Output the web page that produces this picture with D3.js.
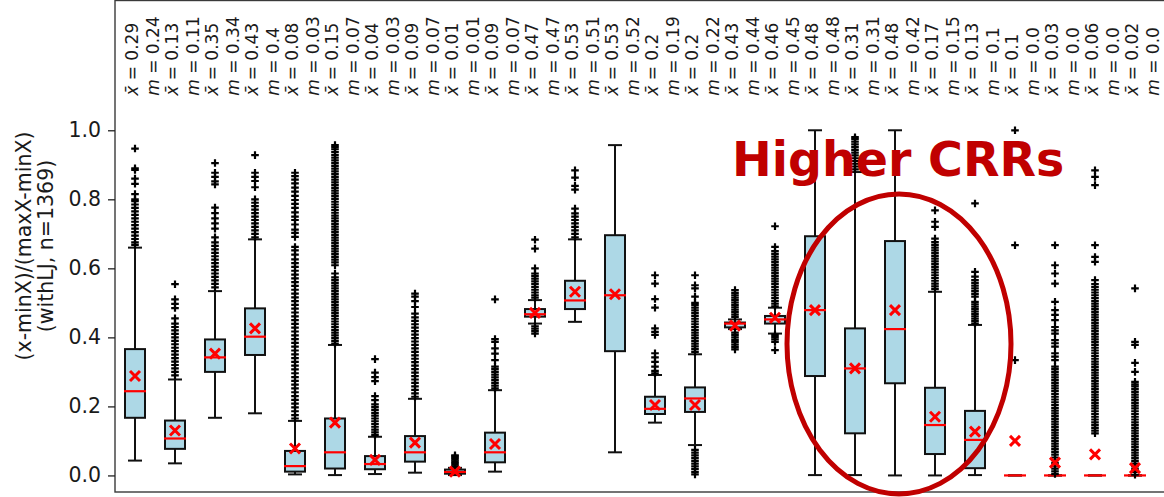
<!DOCTYPE html>
<html lang="en">
<head>
    <meta charset="UTF-8">
    <title>Box plots of normalised values</title>
    <script src="https://cdn.jsdelivr.net/npm/d3@7"></script>
    <style>
        body {
            margin: 0;
            padding: 0;
            background: #ffffff;
        }
        svg text {
            font-family: "DejaVu Sans", sans-serif;
            fill: #1a1a1a;
        }
        .tick text {
            font-size: 20.5px;
        }
    </style>
</head>
<body>
    <div id="chart"></div>

    <script>
        // --- data ---
        var meanText = ["0.29","0.13","0.35","0.43","0.08","0.15","0.04","0.09","0.01","0.09","0.47","0.53","0.53",
                        "0.2","0.2","0.43","0.46","0.48","0.31","0.48","0.17","0.13","0.1","0.03","0.06","0.02"];
        var medianText = ["0.24","0.11","0.34","0.4","0.03","0.07","0.03","0.07","0.01","0.07","0.47","0.51","0.52",
                          "0.19","0.22","0.44","0.45","0.48","0.31","0.42","0.15","0.1","0.0","0.0","0.0","0.0"];

        var whiskerLow  = [0.043,0.035,0.167,0.180,0.003,0.001,0.004,0.008,0.001,0.011,0.440,0.445,0.067,
                           0.153,0.088,0.424,0.411,0.001,0.001,0.000,0.000,0.001,0,0,0,0];
        var q1          = [0.167,0.077,0.300,0.349,0.011,0.020,0.018,0.040,0.005,0.038,0.460,0.482,0.360,
                           0.178,0.184,0.429,0.440,0.288,0.122,0.267,0.062,0.021,0,0,0,0];
        var median      = [0.244,0.107,0.342,0.402,0.027,0.067,0.033,0.067,0.010,0.067,0.467,0.507,0.522,
                           0.193,0.223,0.440,0.452,0.479,0.310,0.424,0.146,0.103,0,0,0,0];
        var q3          = [0.366,0.159,0.394,0.484,0.071,0.165,0.056,0.114,0.017,0.124,0.482,0.564,0.696,
                           0.228,0.255,0.443,0.462,0.693,0.426,0.679,0.254,0.187,0,0,0,0];
        var whiskerHigh = [0.660,0.278,0.534,0.684,0.158,0.378,0.112,0.222,0.022,0.247,0.508,0.684,0.957,
                           0.291,0.351,0.452,0.486,1.000,0.879,1.000,0.532,0.436,0,0,0,0];
        var means       = [0.288,0.130,0.353,0.426,0.078,0.153,0.045,0.095,0.011,0.091,0.471,0.532,0.525,
                           0.204,0.204,0.434,0.457,0.479,0.310,0.479,0.170,0.127,0.100,0.037,0.061,0.021];

        var outliers = [
            [0.668,0.675,0.685,0.695,0.705,0.715,0.725,0.735,0.745,0.755,0.765,0.775,0.785,0.795,0.80,0.815,0.845,0.86,0.885,0.89,0.947],
            [0.29,0.30,0.31,0.32,0.33,0.34,0.35,0.36,0.37,0.38,0.39,0.40,0.41,0.42,0.43,0.44,0.455,0.485,0.497,0.51,0.554],
            [0.545,0.555,0.565,0.575,0.585,0.595,0.605,0.615,0.625,0.635,0.645,0.655,0.665,0.675,0.69,0.715,0.73,0.745,0.76,0.776,0.843,0.852,0.865,0.877,0.905],
            [0.69,0.70,0.71,0.72,0.73,0.74,0.75,0.76,0.77,0.78,0.79,0.80,0.835,0.853,0.865,0.877,0.928],
            [0.165,0.175,0.186,0.197,0.208,0.219,0.23,0.241,0.252,0.263,0.274,0.285,0.296,0.307,0.318,0.329,0.34,0.351,0.362,0.373,
             0.384,0.395,0.406,0.417,0.428,0.439,0.45,0.461,0.472,0.483,0.494,0.505,0.516,0.527,0.538,0.549,0.56,0.571,0.582,0.593,
             0.604,0.615,0.626,0.64,0.652,0.662,0.691,0.703,0.712,0.727,0.74,0.75,0.762,0.775,0.787,0.798,0.81,0.822,0.834,0.846,
             0.857,0.867,0.877],
            [0.382,0.39,0.398,0.406,0.414,0.422,0.43,0.438,0.446,0.454,0.462,0.47,0.478,0.486,0.494,0.502,0.51,0.518,0.526,0.534,
             0.542,0.55,0.558,0.566,0.574,0.585,0.609,0.617,0.625,0.633,0.641,0.649,0.657,0.665,0.673,0.681,0.689,0.697,0.705,0.713,
             0.721,0.729,0.737,0.745,0.753,0.761,0.769,0.777,0.785,0.793,0.801,0.809,0.817,0.825,0.833,0.841,0.849,0.857,0.865,0.873,
             0.881,0.889,0.897,0.905,0.913,0.921,0.929,0.937,0.945,0.951,0.957],
            [0.117,0.125,0.133,0.141,0.149,0.157,0.165,0.173,0.181,0.19,0.198,0.206,0.218,0.23,0.273,0.285,0.298,0.337],
            [0.228,0.238,0.248,0.258,0.268,0.278,0.288,0.298,0.308,0.318,0.328,0.338,0.348,0.358,0.368,0.378,0.388,0.398,0.408,0.418,
             0.428,0.438,0.448,0.458,0.469,0.488,0.505,0.518,0.527],
            [0.026,0.031,0.036,0.041,0.046,0.051,0.055,0.058],
            [0.252,0.26,0.268,0.276,0.284,0.292,0.30,0.308,0.315,0.334,0.353,0.368,0.387,0.395,0.51],
            [0.411,0.418,0.425,0.432,0.515,0.522,0.53,0.538,0.546,0.554,0.562,0.57,0.578,0.585,0.60,0.657,0.683],
            [0.69,0.70,0.71,0.72,0.73,0.74,0.75,0.759,0.773,0.828,0.839,0.863,0.884],
            [],
            [0.296,0.303,0.315,0.329,0.342,0.354,0.407,0.416,0.426,0.486,0.511,0.556,0.58],
            [0.003,0.01,0.018,0.026,0.034,0.042,0.05,0.058,0.066,0.074,
             0.358,0.366,0.374,0.382,0.39,0.398,0.406,0.414,0.422,0.43,0.438,0.446,0.454,0.462,0.47,0.478,0.486,0.494,0.50,0.518,
             0.542,0.551,0.58],
            [0.365,0.372,0.379,0.386,0.393,0.40,0.407,0.414,0.459,0.466,0.473,0.48,0.487,0.494,0.501,0.508,0.515,0.522,0.529,0.537],
            [0.363,0.387,0.394,0.401,0.407,0.49,0.498,0.506,0.514,0.522,0.53,0.538,0.546,0.554,0.562,0.57,0.578,0.586,0.594,0.602,
             0.61,0.618,0.626,0.634,0.642,0.65,0.662,0.722],
            [],
            [0.887,0.895,0.903,0.911,0.919,0.927,0.935,0.943,0.951,0.959,0.967,0.975,0.98],
            [],
            [0.54,0.548,0.556,0.564,0.572,0.58,0.588,0.596,0.604,0.612,0.62,0.628,0.636,0.644,0.652,0.66,0.668,0.676,0.686,0.72,0.735,0.768],
            [0.44,0.447,0.454,0.461,0.468,0.475,0.482,0.489,0.496,0.503,0.518,0.526,0.534,0.542,0.55,0.558,0.566,0.576,0.59,0.788],
            [0.334,0.667,1.0],
            [0.004,0.012,0.02,0.028,0.036,0.044,0.052,0.06,0.068,0.076,0.084,0.092,0.1,0.108,0.116,0.124,0.132,0.14,0.148,0.156,
             0.164,0.172,0.18,0.188,0.196,0.204,0.212,0.22,0.228,0.236,0.244,0.252,0.26,0.268,0.276,0.284,0.292,0.3,0.308,0.315,
             0.334,0.344,0.354,0.373,0.383,0.392,0.411,0.42,0.43,0.45,0.465,0.479,0.503,0.556,0.585,0.609,0.667],
            [0.122,0.13,0.138,0.146,0.154,0.162,0.17,0.178,0.186,0.194,0.202,0.21,0.218,0.226,0.234,0.242,0.25,0.258,0.266,0.274,
             0.282,0.29,0.298,0.306,0.314,0.322,0.33,0.338,0.346,0.354,0.362,0.37,0.378,0.386,0.394,0.402,0.41,0.418,0.426,0.434,
             0.442,0.45,0.458,0.466,0.474,0.482,0.49,0.498,0.506,0.514,0.522,0.53,0.538,0.546,0.554,0.566,0.619,0.633,0.667,0.841,
             0.865,0.884],
            [0.002,0.01,0.018,0.026,0.034,0.042,0.05,0.058,0.066,0.074,0.082,0.09,0.098,0.106,0.114,0.122,0.13,0.138,0.146,0.154,
             0.162,0.17,0.178,0.186,0.194,0.202,0.21,0.218,0.226,0.234,0.242,0.25,0.258,0.264,0.271,0.3,0.326,0.378,0.387,0.542]
        ];

        var yTicks = [0, 0.2, 0.4, 0.6, 0.8, 1.0];
        var yLabelLines = ["(x-minX)/(maxX-minX)", "(withLJ, n=1369)"];
        var noteText = "Higher CRRs";

        // --- layout ---
        var width = 1164, height = 497;
        var plotLeft = 115, plotRight = 1175, plotTop = 0.5, plotBottom = 492;

        var svg = d3.select("#chart")
            .append("svg")
            .attr("width", width)
            .attr("height", height);

        var x = d3.scaleLinear().domain([0.5, 27]).range([plotLeft, plotRight]);
        var y = d3.scaleLinear().domain([-0.048, 1.376]).range([plotBottom, plotTop]);

        var boxW = x(1.25) - x(0.75);
        var capW = x(1.15) - x(0.85);

        var data = means.map(function(m, i) {
            return {
                pos: i + 1, lo: whiskerLow[i], q1: q1[i], med: median[i], q3: q3[i], hi: whiskerHigh[i],
                mean: m, fliers: outliers[i], mt: meanText[i], dt: medianText[i]
            };
        });

        // frame
        svg.append("rect")
            .attr("x", plotLeft).attr("y", plotTop)
            .attr("width", plotRight - plotLeft).attr("height", plotBottom - plotTop)
            .attr("fill", "none").attr("stroke", "#3a3a3a").attr("stroke-width", 1.4);

        // y-axis
        var yAxis = svg.append("g")
            .attr("transform", "translate(" + plotLeft + ",0)")
            .call(d3.axisLeft(y).tickValues(yTicks).tickFormat(d3.format(".1f")).tickSize(7).tickPadding(7));
        yAxis.select(".domain").remove();
        yAxis.selectAll(".tick line").attr("stroke", "#222").attr("stroke-width", 1.3);
        yAxis.selectAll(".tick text").attr("fill", "#1a1a1a").style("font-family", "DejaVu Sans");

        // y label (two lines)
        var yl = svg.append("text")
            .attr("transform", "translate(0," + (plotBottom / 2) + ") rotate(-90)")
            .attr("text-anchor", "middle")
            .style("font-size", "20.5px");
        yLabelLines.forEach(function(t, i) {
            yl.append("tspan").attr("x", 0).attr("y", 31 + i * 22).text(t);
        });

        var groups = svg.selectAll("g.box")
            .data(data)
            .join("g")
            .attr("class", "box");

        // whiskers
        groups.append("line")
            .attr("x1", d => x(d.pos)).attr("x2", d => x(d.pos))
            .attr("y1", d => y(d.hi)).attr("y2", d => y(d.q3))
            .attr("stroke", "#111").attr("stroke-width", 2);
        groups.append("line")
            .attr("x1", d => x(d.pos)).attr("x2", d => x(d.pos))
            .attr("y1", d => y(d.lo)).attr("y2", d => y(d.q1))
            .attr("stroke", "#111").attr("stroke-width", 2);

        // boxes
        groups.append("rect")
            .attr("x", d => x(d.pos) - boxW / 2)
            .attr("y", d => y(d.q3))
            .attr("width", boxW)
            .attr("height", d => y(d.q1) - y(d.q3))
            .attr("fill", "#add8e6")
            .attr("stroke", "#111").attr("stroke-width", 2);

        // caps
        ["lo", "hi"].forEach(function(k) {
            groups.append("line")
                .attr("x1", d => x(d.pos) - capW / 2 - 1).attr("x2", d => x(d.pos) + capW / 2 + 1)
                .attr("y1", d => y(d[k])).attr("y2", d => y(d[k]))
                .attr("stroke", "#111").attr("stroke-width", 2);
        });

        // medians
        groups.append("line")
            .attr("x1", d => x(d.pos) - boxW / 2 - 1).attr("x2", d => x(d.pos) + boxW / 2 + 1)
            .attr("y1", d => y(d.med)).attr("y2", d => y(d.med))
            .attr("stroke", "#ff0000").attr("stroke-width", 2.2);

        // fliers as "+"
        var fl = groups.selectAll("g.flier")
            .data(d => d.fliers.map(v => ({ pos: d.pos, v: v })))
            .join("g")
            .attr("class", "flier")
            .attr("transform", d => "translate(" + x(d.pos) + "," + y(d.v) + ")");
        fl.append("path")
            .attr("d", "M-3.8,0H3.8M0,-3.8V3.8")
            .attr("stroke", "#000").attr("stroke-width", 2.2);

        // means as red "x"
        groups.append("path")
            .attr("transform", d => "translate(" + x(d.pos) + "," + y(d.mean) + ")")
            .attr("d", "M-5,-5L5,5M-5,5L5,-5")
            .attr("stroke", "#ff0000").attr("stroke-width", 3);

        // mean / median labels above each box
        var lab = groups.append("g")
            .attr("transform", d => "translate(" + x(d.pos) + "," + y(1.1) + ") rotate(-90)");
        var t1 = lab.append("text").attr("x", 0).attr("y", 3).style("font-size", "17px");
        t1.append("tspan").style("font-style", "italic").text("x\u0304");
        t1.append("tspan").text(d => " = " + d.mt);
        var t2 = lab.append("text").attr("x", 0).attr("y", 24).style("font-size", "17px");
        t2.append("tspan").style("font-style", "italic").text("m");
        t2.append("tspan").text(d => " = " + d.dt);

        // annotation
        svg.append("text")
            .attr("x", 732).attr("y", 176)
            .style("font-size", "47.5px").style("font-weight", "bold")
            .style("fill", "#c00000")
            .text(noteText);

        svg.append("ellipse")
            .attr("cx", x(20.1)).attr("cy", y(0.381))
            .attr("rx", 112).attr("ry", 150)
            .attr("fill", "none")
            .attr("stroke", "#c00000").attr("stroke-width", 5);
    </script>
</body>
</html>
